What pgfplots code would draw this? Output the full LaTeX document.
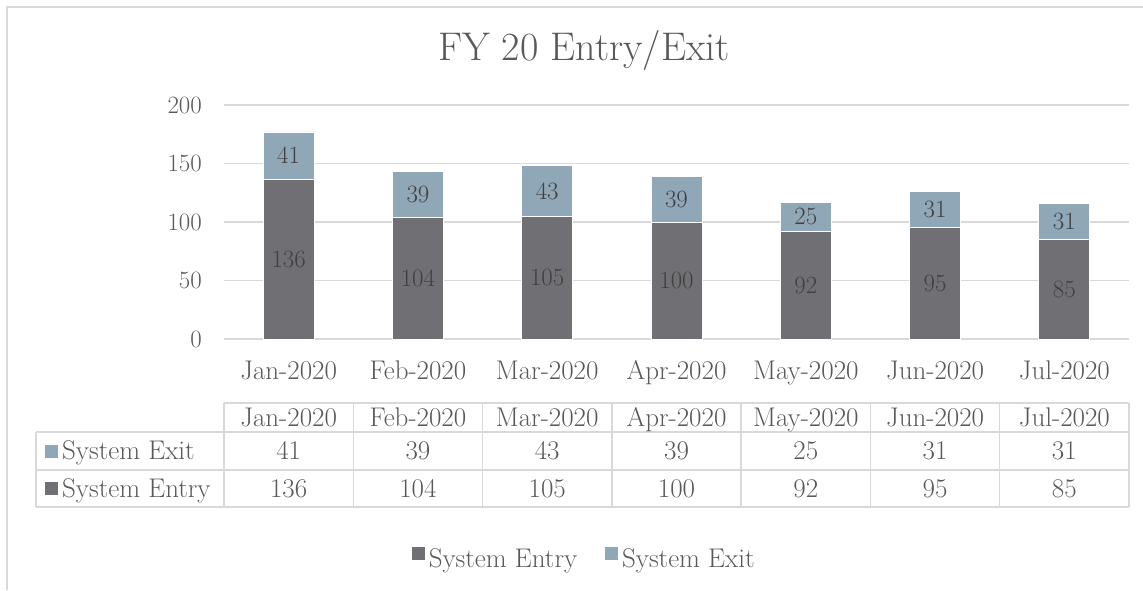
\documentclass[border=0pt]{standalone}
\usepackage{pgfplots}
\pgfplotsset{compat=1.18}
\definecolor{entrycol}{RGB}{112,111,116}
\definecolor{exitcol}{RGB}{143,167,183}
\definecolor{gridgray}{RGB}{217,217,217}
\definecolor{ticktext}{RGB}{89,89,89}
\definecolor{labtext}{RGB}{64,64,64}
\newcommand{\tfont}{\fontsize{27}{32}\selectfont}
\begin{document}
\begin{tikzpicture}[x=1pt,y=1pt]
\useasboundingbox (0,0) rectangle (1143,590);
% outer frame
\draw[gridgray, line width=1.5pt] (7,0) -- (7,583) -- (1143,583);
% title
\node[text=ticktext, font=\fontsize{40}{46}\selectfont] at (584,539) {FY 20 Entry/Exit};
\begin{axis}[
  at={(224pt,251pt)}, anchor=south west,
  scale only axis, width=905pt, height=234pt,
  xmin=-0.5, xmax=6.5, ymin=0, ymax=200,
  ybar stacked, bar width=51pt,
  axis line style={draw=none},
  tick style={draw=none},
  ytick={0,50,100,150,200},
  ymajorgrids, grid style={draw=gridgray, line width=1.5pt},
  xtick={0,...,6},
  xticklabels={Jan-2020,Feb-2020,Mar-2020,Apr-2020,May-2020,Jun-2020,Jul-2020},
  ticklabel style={font=\tfont, text=ticktext, inner sep=0pt},
  yticklabel style={xshift=-22pt},
  xticklabel style={anchor=base, yshift=-40pt},
  nodes near coords,
  every node near coord/.append style={anchor=center, font=\tfont, text=labtext},
  legend style={at={(rel axis cs:0.398,-0.94)}, anchor=center, draw=none, fill=none,
    legend columns=2, font=\tfont, text=ticktext,
    /tikz/every even column/.append style={column sep=26pt}},
  legend image code/.code={\path[#1, draw=none, fill=none] (0pt,-7pt) -- (15pt,-7pt);
     \pgfpathrectangle{\pgfpoint{0pt}{-0.5pt}}{\pgfpoint{13pt}{13pt}}\pgfusepath{fill}},
]
\addplot[fill=entrycol, draw=white, line width=0.8pt] coordinates {(0,136) (1,104) (2,105) (3,100) (4,92) (5,95) (6,85)};
\addlegendentry{System Entry}
\addplot[fill=exitcol, draw=white, line width=0.8pt] coordinates {(0,41) (1,39) (2,43) (3,39) (4,25) (5,31) (6,31)};
\addlegendentry{System Exit}
\end{axis}
% data table
\begin{scope}[gridgray, line width=1.5pt]
\draw (224,187) -- (1129,187);
\draw (36,158) -- (1129,158);
\draw (36,120) -- (1129,120);
\draw (36,83) -- (1129,83);
\draw (36,83) -- (36,158);
\foreach \k in {0,...,7} { \draw ({224+\k*129.2857},83) -- ({224+\k*129.2857},187); }
\end{scope}
\foreach \m [count=\i from 0] in {Jan-2020,Feb-2020,Mar-2020,Apr-2020,May-2020,Jun-2020,Jul-2020} {
  \node[anchor=base, inner sep=0pt, text=ticktext, font=\tfont] at ({224+(\i+0.5)*129.2857},163.8) {\m};
}
\foreach \v [count=\i from 0] in {41,39,43,39,25,31,31} {
  \node[anchor=base, inner sep=0pt, text=ticktext, font=\tfont] at ({224+(\i+0.5)*129.2857},130.3) {\v};
}
\foreach \v [count=\i from 0] in {136,104,105,100,92,95,85} {
  \node[anchor=base, inner sep=0pt, text=ticktext, font=\tfont] at ({224+(\i+0.5)*129.2857},92.8) {\v};
}
\fill[exitcol] (45,132.5) rectangle (58,145.5);
\node[anchor=base west, text=ticktext, font=\tfont, inner sep=0pt] at (62,130.3) {System Exit};
\fill[entrycol] (45,95) rectangle (58,108);
\node[anchor=base west, text=ticktext, font=\tfont, inner sep=0pt] at (62,92.8) {System Entry};
\end{tikzpicture}
\end{document}
